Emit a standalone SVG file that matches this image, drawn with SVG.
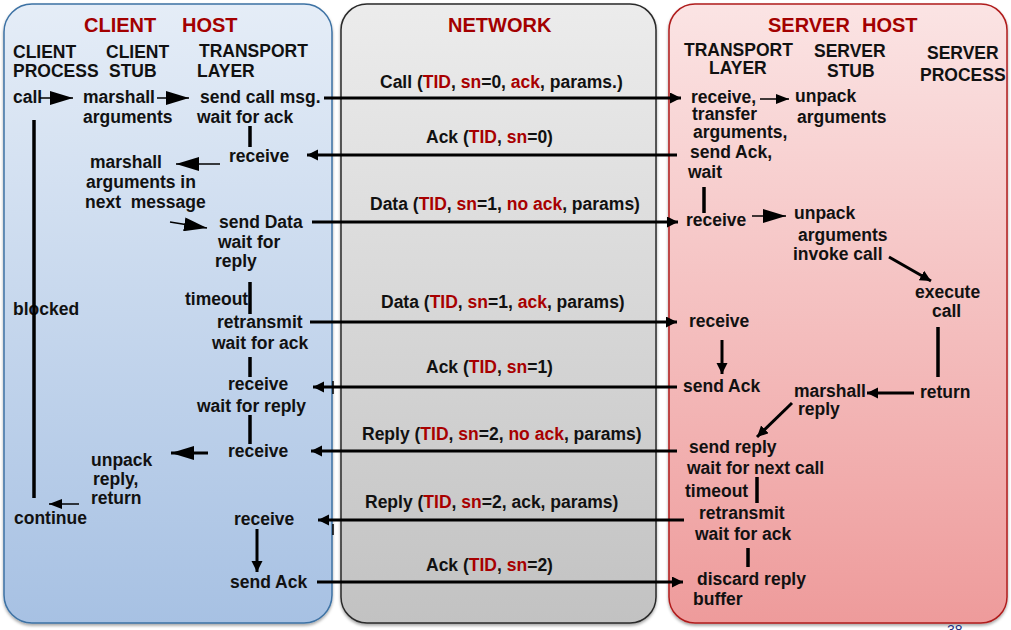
<svg xmlns="http://www.w3.org/2000/svg" width="1011" height="630" viewBox="0 0 1011 630">
<defs>
  <linearGradient id="gClient" x1="0" y1="0" x2="0" y2="1">
    <stop offset="0" stop-color="#e5edf7"/>
    <stop offset="1" stop-color="#a7c1e3"/>
  </linearGradient>
  <linearGradient id="gNet" x1="0" y1="0" x2="0" y2="1">
    <stop offset="0" stop-color="#ececec"/>
    <stop offset="1" stop-color="#c2c2c2"/>
  </linearGradient>
  <linearGradient id="gServer" x1="0" y1="0" x2="0" y2="1">
    <stop offset="0" stop-color="#fbe4e4"/>
    <stop offset="1" stop-color="#ee9b9b"/>
  </linearGradient>
  <filter id="shadow" x="-5%" y="-5%" width="110%" height="110%">
    <feDropShadow dx="0" dy="2" stdDeviation="1.5" flood-color="#000" flood-opacity="0.35"/>
  </filter>
  <marker id="ah" markerUnits="userSpaceOnUse" markerWidth="12" markerHeight="12" refX="11" refY="5.5" orient="auto">
    <path d="M0,0 L11,5.5 L0,11 z" fill="#000"/>
  </marker>
  <marker id="big" markerUnits="userSpaceOnUse" markerWidth="24" markerHeight="14" refX="23" refY="7" orient="auto">
    <path d="M0,0 L23,7 L0,14 z" fill="#000"/>
  </marker>
  <marker id="mid" markerUnits="userSpaceOnUse" markerWidth="14" markerHeight="12" refX="13" refY="5" orient="auto">
    <path d="M0,0 L13,5 L0,10 z" fill="#000"/>
  </marker>
</defs>
<style>
  text { font-family: "Liberation Sans", Arial, Helvetica, sans-serif; font-weight: bold; font-size: 17.5px; fill: #111; }
  .head { font-size: 20px; fill: #a30000; }
  .r { fill: #a80000; }
  .ln { stroke: #000; stroke-width: 3; fill: none; }
  .thin { stroke: #000; stroke-width: 1.5; fill: none; }
  .bar { stroke: #000; stroke-width: 3.5; fill: none; }
  .pg { font-size: 14px; font-weight: normal; fill: #1f2f80; }
</style>

<g id="panels">
  <rect id="client-host" x="4" y="4" width="328" height="619" rx="28" fill="url(#gClient)" stroke="#3d72a4" stroke-width="1.5" filter="url(#shadow)"/>
  <rect id="network" x="341" y="4" width="315" height="619" rx="26" fill="url(#gNet)" stroke="#2a2a2a" stroke-width="1.5" filter="url(#shadow)"/>
  <rect id="server-host" x="669" y="4" width="338" height="619" rx="26" fill="url(#gServer)" stroke="#b01c1c" stroke-width="1.5" filter="url(#shadow)"/>
</g>

<g id="headings">
  <text class="head" x="84" y="32">CLIENT</text>
  <text class="head" x="182" y="32">HOST</text>
  <text class="head" x="448" y="32">NETWORK</text>
  <text class="head" x="768" y="32">SERVER</text>
  <text class="head" x="862" y="32">HOST</text>
</g>

<g id="col-client-process"><text x="13" y="58">CLIENT</text><text x="13" y="77">PROCESS</text></g>
<g id="col-client-stub"><text x="106" y="58">CLIENT</text><text x="109" y="77">STUB</text></g>
<g id="col-client-transport"><text x="199" y="57">TRANSPORT</text><text x="197" y="77">LAYER</text></g>
<g id="col-server-transport"><text x="684" y="56">TRANSPORT</text><text x="709" y="74">LAYER</text></g>
<g id="col-server-stub"><text x="814" y="57">SERVER</text><text x="827" y="77">STUB</text></g>
<g id="col-server-process"><text x="927" y="59">SERVER</text><text x="920" y="81">PROCESS</text></g>

<!-- client nodes -->
<g id="n-call"><text x="13" y="103">call</text></g>
<g id="n-marshall1"><text x="83" y="103">marshall</text><text x="83" y="123">arguments</text></g>
<g id="n-sendcall"><text x="200" y="103">send call msg.</text><text x="197" y="123">wait for ack</text></g>
<g id="n-receive1"><text x="229" y="162">receive</text></g>
<g id="n-marshall2"><text x="90" y="168">marshall</text><text x="86" y="188">arguments in</text><text x="85" y="208" xml:space="preserve">next  message</text></g>
<g id="n-senddata"><text x="219" y="228">send Data</text><text x="218" y="248">wait for</text><text x="215" y="267">reply</text></g>
<g id="n-timeout1"><text x="185" y="305">timeout</text></g>
<g id="n-retransmit1"><text x="217" y="328">retransmit</text><text x="212" y="349">wait for ack</text></g>
<g id="n-receive2"><text x="228" y="390">receive</text><text x="197" y="412">wait for reply</text></g>
<g id="n-receive3"><text x="228" y="457">receive</text></g>
<g id="n-unpack"><text x="91" y="466">unpack</text><text x="93" y="485">reply,</text><text x="91" y="504">return</text></g>
<g id="n-continue"><text x="14" y="524">continue</text></g>
<g id="n-blocked"><text x="13" y="315">blocked</text></g>
<g id="n-receive4"><text x="234" y="525">receive</text></g>
<g id="n-sendack-c"><text x="230" y="588">send Ack</text></g>

<!-- server nodes -->
<g id="s-receive1"><text x="691" y="103">receive,</text><text x="692" y="120">transfer</text><text x="693" y="138">arguments,</text><text x="690" y="158">send Ack,</text><text x="688" y="178">wait</text></g>
<g id="s-unpack1"><text x="795" y="102">unpack</text><text x="797" y="123">arguments</text></g>
<g id="s-receive2"><text x="686" y="226">receive</text></g>
<g id="s-unpack2"><text x="794" y="219">unpack</text><text x="798" y="241">arguments</text><text x="793" y="260">invoke call</text></g>
<g id="s-execute"><text x="915" y="298">execute</text><text x="932" y="317">call</text></g>
<g id="s-receive3"><text x="689" y="327">receive</text></g>
<g id="s-sendack"><text x="683" y="392">send Ack</text></g>
<g id="s-return"><text x="920" y="398">return</text></g>
<g id="s-marshall"><text x="794" y="397">marshall</text><text x="798" y="415">reply</text></g>
<g id="s-sendreply"><text x="689" y="453">send reply</text><text x="687" y="474">wait for next call</text></g>
<g id="s-timeout"><text x="685" y="497">timeout</text></g>
<g id="s-retransmit"><text x="699" y="519">retransmit</text><text x="695" y="540">wait for ack</text></g>
<g id="s-discard"><text x="697" y="585">discard reply</text><text x="693" y="605">buffer</text></g>

<!-- message labels -->
<g id="m-call"><text x="380" y="88">Call (<tspan class="r">TID</tspan>, <tspan class="r">sn</tspan>=0, <tspan class="r">ack</tspan>, params.)</text></g>
<g id="m-ack0"><text x="426" y="143">Ack (<tspan class="r">TID</tspan>, <tspan class="r">sn</tspan>=0)</text></g>
<g id="m-data1"><text x="370" y="210">Data (<tspan class="r">TID</tspan>, <tspan class="r">sn</tspan>=1, <tspan class="r">no ack</tspan>, params)</text></g>
<g id="m-data2"><text x="381" y="308">Data (<tspan class="r">TID</tspan>, <tspan class="r">sn</tspan>=1, <tspan class="r">ack</tspan>, params)</text></g>
<g id="m-ack1"><text x="426" y="373">Ack (<tspan class="r">TID</tspan>, <tspan class="r">sn</tspan>=1)</text></g>
<g id="m-reply1"><text x="362" y="440">Reply (<tspan class="r">TID</tspan>, <tspan class="r">sn</tspan>=2, <tspan class="r">no ack</tspan>, params)</text></g>
<g id="m-reply2"><text x="365" y="508">Reply (<tspan class="r">TID</tspan>, <tspan class="r">sn</tspan>=2, ack, params)</text></g>
<g id="m-ack2"><text x="426" y="571">Ack (<tspan class="r">TID</tspan>, <tspan class="r">sn</tspan>=2)</text></g>

<g id="connectors">
  <!-- client internal -->
  <line class="thin" x1="40" y1="98" x2="73" y2="98" marker-end="url(#big)"/>
  <line class="thin" x1="157" y1="98" x2="189" y2="98" marker-end="url(#big)"/>
  <line class="bar" x1="250" y1="126" x2="250" y2="147"/>
  <line class="thin" x1="220" y1="164" x2="176" y2="164" marker-end="url(#big)"/>
  <line class="thin" x1="170" y1="222" x2="207" y2="228" marker-end="url(#big)"/>
  <line class="bar" x1="250" y1="282" x2="250" y2="314"/>
  <line class="bar" x1="250" y1="357" x2="250" y2="377"/>
  <line class="bar" x1="250" y1="415" x2="250" y2="444"/>
  <line class="ln" x1="208" y1="453" x2="171" y2="453" marker-end="url(#big)"/>
  <line class="thin" x1="79" y1="504" x2="49" y2="504" marker-end="url(#mid)"/>
  <line class="bar" x1="34" y1="120" x2="34" y2="498"/>
  <line class="ln" x1="257" y1="529" x2="257" y2="572" marker-end="url(#ah)"/>
  <!-- network messages -->
  <line class="ln" x1="324" y1="98" x2="681" y2="98" marker-end="url(#ah)"/>
  <line class="ln" x1="677" y1="155" x2="307" y2="155" marker-end="url(#ah)"/>
  <line class="ln" x1="312" y1="222" x2="678" y2="222" marker-end="url(#ah)"/>
  <line class="ln" x1="310" y1="322" x2="677" y2="322" marker-end="url(#ah)"/>
  <line class="ln" x1="677" y1="387" x2="313" y2="387" marker-end="url(#ah)"/>
  <line class="ln" x1="677" y1="451" x2="311" y2="451" marker-end="url(#ah)"/>
  <line class="ln" x1="684" y1="520" x2="318" y2="520" marker-end="url(#ah)"/>
  <line class="ln" x1="317" y1="582" x2="683" y2="582" marker-end="url(#ah)"/>
  <line class="thin" x1="333" y1="381" x2="333" y2="394"/>
  <line class="thin" x1="333" y1="524" x2="333" y2="535"/>
  <!-- server internal -->
  <line class="thin" x1="760" y1="99" x2="789" y2="99" marker-end="url(#mid)"/>
  <line class="bar" x1="704" y1="187" x2="704" y2="213"/>
  <line class="thin" x1="752" y1="216" x2="786" y2="216" marker-end="url(#big)"/>
  <line class="ln" x1="889" y1="257" x2="931" y2="281" marker-end="url(#ah)"/>
  <line class="bar" x1="938" y1="327" x2="938" y2="377"/>
  <line class="ln" x1="914" y1="393" x2="867" y2="393" marker-end="url(#ah)"/>
  <line class="ln" x1="792" y1="403" x2="757" y2="437" marker-end="url(#ah)"/>
  <line class="ln" x1="722" y1="340" x2="722" y2="374" marker-end="url(#ah)"/>
  <line class="bar" x1="757" y1="477" x2="757" y2="503"/>
  <line class="bar" x1="748" y1="548" x2="748" y2="567"/>
</g>

<text class="pg" x="947" y="635">38</text>
</svg>
